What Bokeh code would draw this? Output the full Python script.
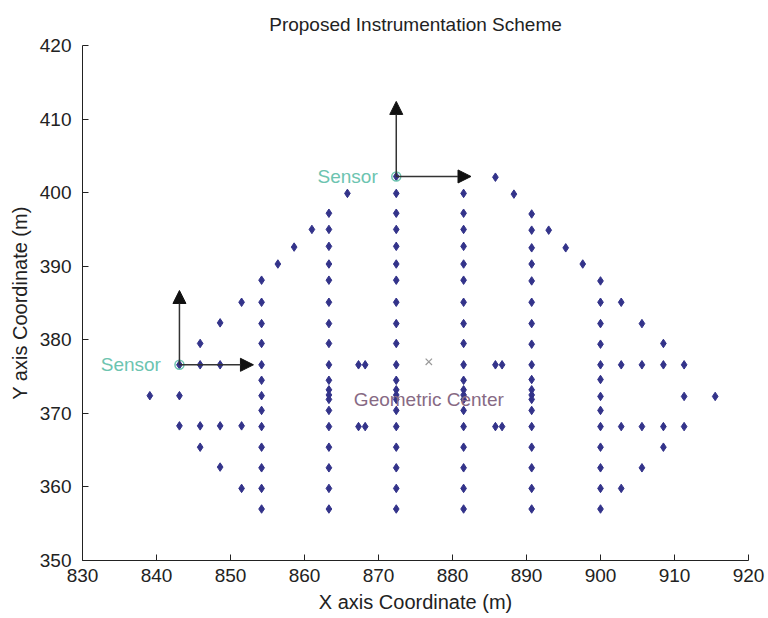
from bokeh.plotting import figure
from bokeh.models import Range1d, Arrow, NormalHead, FixedTicker, ColumnDataSource
from bokeh.embed import file_html
from bokeh.resources import INLINE
from bokeh.core.properties import value

# ---------------- data ----------------
title_text = "Proposed Instrumentation Scheme"
x_label = "X axis Coordinate (m)"
y_label = "Y axis Coordinate (m)"
x_ticks = [830, 840, 850, 860, 870, 880, 890, 900, 910, 920]
y_ticks = [350, 360, 370, 380, 390, 400, 410, 420]

# main survey columns
col_854_x = [854.2] * 13
col_854_y = [388.1, 385.1, 382.2, 379.5, 376.6, 374.5, 372.4, 370.4, 368.2, 365.4, 362.6, 359.8, 357.0]
col_863_x = [863.3] * 19
col_863_y = [397.2, 395.0, 392.7, 390.3, 388.1, 385.1, 382.2, 379.5, 376.6, 374.5,
             373.2, 372.5, 371.9, 370.4, 368.2, 365.4, 362.6, 359.8, 357.0]
col_872_x = [872.4] * 20
col_872_y = [399.9, 397.2, 395.0, 392.7, 390.3, 388.1, 385.1, 382.2, 379.5, 376.6, 374.5,
             373.2, 372.5, 371.9, 370.4, 368.2, 365.4, 362.6, 359.8, 357.0]
col_881_x = [881.5] * 20
col_881_y = [399.9, 397.2, 395.0, 392.7, 390.3, 388.1, 385.1, 382.2, 379.5, 376.6, 374.5,
             373.2, 372.5, 371.9, 370.4, 368.2, 365.4, 362.6, 359.8, 357.0]
col_891_x = [890.7] * 19
col_891_y = [397.1, 394.9, 392.5, 390.3, 388.0, 385.1, 382.2, 379.4, 376.6, 374.6,
             373.2, 372.5, 371.9, 370.4, 368.2, 365.4, 362.6, 359.8, 357.0]
col_900_x = [900.0] * 13
col_900_y = [388.0, 385.1, 382.2, 379.4, 376.6, 374.6, 372.3, 370.4, 368.2, 365.4, 362.6, 359.8, 357.0]

# left wing
left_x = [839.1, 843.1, 843.1, 843.1, 845.9, 848.6, 845.9, 848.6, 851.5, 856.4, 858.6, 861.0, 865.8,
          845.9, 848.6, 851.5, 845.9, 848.6, 851.5]
left_y = [372.4, 376.6, 372.4, 368.3, 376.6, 376.6, 379.5, 382.3, 385.1, 390.3, 392.6, 395.0, 399.9,
          368.3, 368.3, 368.3, 365.4, 362.7, 359.8]
# paired points in the middle
mid_x = [867.3, 868.2, 867.3, 868.2, 885.8, 886.7, 885.8, 886.7, 872.4]
mid_y = [376.6, 376.6, 368.2, 368.2, 376.6, 376.6, 368.2, 368.2, 402.2]
# right wing
right_x = [885.8, 888.3, 893.0, 895.3, 897.6, 902.8, 905.6, 908.5, 902.8, 905.6, 908.5, 911.3,
           911.3, 915.5, 902.8, 905.6, 908.5, 911.3, 908.5, 905.6, 902.8]
right_y = [402.1, 399.8, 394.9, 392.5, 390.3, 385.1, 382.2, 379.5, 376.6, 376.6, 376.6, 376.6,
           372.3, 372.3, 368.2, 368.2, 368.2, 368.2, 365.4, 362.6, 359.8]

# sensors and their axis arrows
sensor_x = [843.1, 872.4]
sensor_y = [376.6, 402.2]
sensor_label_x = [840.6, 869.9]
sensor_labels = ["Sensor", "Sensor"]
arrow_up_tip_y = [386.7, 412.4]
arrow_right_tip_x = [853.1, 882.5]

# geometric center
center_x = [876.8]
center_y = [377.0]
center_label = ["Geometric Center"]
center_label_y = [371.9]

FONT = "Liberation Sans"
DOT = "#33338a"
TEAL = "#6cc4b0"
MAUVE = "#876a84"
INK = "#222222"

dot_x = col_854_x + col_863_x + col_872_x + col_881_x + col_891_x + col_900_x + left_x + mid_x + right_x
dot_y = col_854_y + col_863_y + col_872_y + col_881_y + col_891_y + col_900_y + left_y + mid_y + right_y

p = figure(width=768, height=618, x_range=Range1d(830, 920), y_range=Range1d(350, 420),
           output_backend="svg", toolbar_location=None, title=title_text,
           min_border_left=82, min_border_right=20, min_border_top=42, min_border_bottom=58)
p.background_fill_color = "white"
p.border_fill_color = "white"
p.outline_line_color = None
p.xgrid.visible = False
p.ygrid.visible = False

p.title.text_font = FONT
p.title.text_font_size = "19px"
p.title.text_font_style = "normal"
p.title.text_color = INK
p.title.align = "center"
p.title.standoff = 22

for ax, ticks in ((p.xaxis, x_ticks), (p.yaxis, y_ticks)):
    ax.ticker = FixedTicker(ticks=ticks)
    ax.major_tick_in = 6
    ax.major_tick_out = 0
    ax.minor_tick_in = 0
    ax.minor_tick_out = 0
    ax.axis_line_color = INK
    ax.major_tick_line_color = INK
    ax.major_label_text_font = FONT
    ax.major_label_text_font_size = "19px"
    ax.major_label_text_color = INK
    ax.axis_label_text_font = FONT
    ax.axis_label_text_font_size = "20px"
    ax.axis_label_text_font_style = "normal"
    ax.axis_label_text_color = INK
p.xaxis.axis_label = x_label
p.yaxis.axis_label = y_label
p.xaxis.major_label_standoff = 8
p.yaxis.major_label_standoff = 11
p.xaxis.axis_label_standoff = 6
p.yaxis.axis_label_standoff = 6

dots = ColumnDataSource(dict(x=dot_x, y=dot_y))
p.scatter("x", "y", source=dots, marker="diamond", size=8.5, color=DOT)

# arrows
for sx, sy, ty, tx in zip(sensor_x, sensor_y, arrow_up_tip_y, arrow_right_tip_x):
    p.add_layout(Arrow(end=NormalHead(size=13, fill_color="#111111", line_color="#111111"),
                       x_start=sx, y_start=sy, x_end=sx, y_end=ty,
                       line_color="#333333", line_width=1.5))
    p.add_layout(Arrow(end=NormalHead(size=13, fill_color="#111111", line_color="#111111"),
                       x_start=sx, y_start=sy, x_end=tx, y_end=sy,
                       line_color="#333333", line_width=1.5))

p.scatter(sensor_x, sensor_y, marker="circle", size=9, fill_color=None, line_color=TEAL, line_width=1.5)
p.text(x=sensor_label_x, y=sensor_y, text=sensor_labels, text_align="right", text_baseline="middle",
       text_font=value(FONT), text_font_size="19px", text_color=TEAL)

p.scatter(center_x, center_y, marker="x", size=9, line_color="#999999", line_width=1.2)
p.text(x=center_x, y=center_label_y, text=center_label, text_align="center", text_baseline="middle",
       text_font=value(FONT), text_font_size="19px", text_color=MAUVE)

open("out.html", "w").write(file_html(p, INLINE))
